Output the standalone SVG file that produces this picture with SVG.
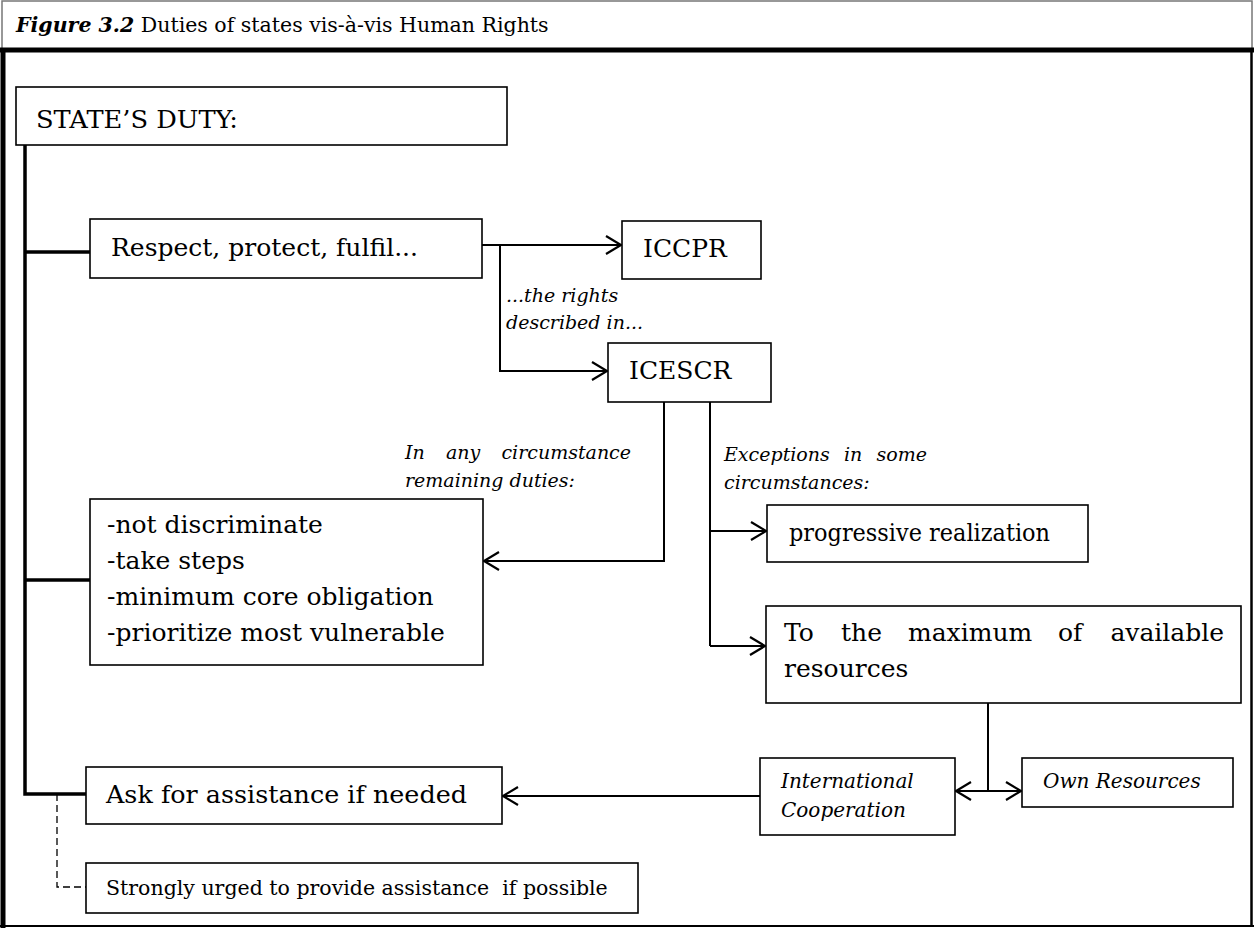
<svg xmlns="http://www.w3.org/2000/svg" width="1254" height="928" viewBox="0 0 1254 928">
<defs>
<marker id="arr" markerUnits="userSpaceOnUse" markerWidth="20" markerHeight="22" refX="16" refY="10" orient="auto">
<path d="M1,1 L16,10 L1,19" fill="none" stroke="#000" stroke-width="2.2"/>
</marker>
<marker id="arrs" markerUnits="userSpaceOnUse" markerWidth="20" markerHeight="22" refX="16" refY="10" orient="auto-start-reverse">
<path d="M1,1 L16,10 L1,19" fill="none" stroke="#000" stroke-width="2.2"/>
</marker>
<style>
.box{fill:#fff;stroke:#000;stroke-width:1.6}
.t{font-family:"DejaVu Serif","Liberation Serif",serif;font-size:25px;fill:#000}
.i{font-family:"DejaVu Serif","Liberation Serif",serif;font-style:italic;font-size:19px;fill:#000}
.ib{font-family:"DejaVu Serif","Liberation Serif",serif;font-style:italic;font-size:20px;fill:#000}
.s{font-family:"DejaVu Serif","Liberation Serif",serif;font-size:20.5px;fill:#000}
.c{fill:none;stroke:#000;stroke-width:2}
.th{fill:none;stroke:#000;stroke-width:3.5}
</style>
</defs>
<rect width="1254" height="928" fill="#fff"/>
<g id="frame">
<rect x="2" y="1" width="1250" height="49" fill="none" stroke="#777" stroke-width="1.5"/>
<line x1="0" y1="50" x2="1254" y2="50" stroke="#000" stroke-width="5"/>
<line x1="3" y1="48" x2="3" y2="928" stroke="#000" stroke-width="5"/>
<line x1="1251.5" y1="50" x2="1251.5" y2="926" stroke="#000" stroke-width="2.5"/>
<line x1="0" y1="926" x2="1254" y2="926" stroke="#000" stroke-width="2"/>
<text x="16" y="32" style="font-family:'DejaVu Serif','Liberation Serif',serif;font-size:20.5px"><tspan font-weight="bold" font-style="italic">Figure 3.2</tspan> Duties of states vis-à-vis Human Rights</text>
</g>
<g id="connectors">
<polyline class="th" points="25,145 25,794 86,794"/>
<line class="th" x1="25" y1="252" x2="90" y2="252"/>
<line class="th" x1="25" y1="580" x2="90" y2="580"/>
<line class="c" x1="482" y1="245" x2="621" y2="245" marker-end="url(#arr)"/>
<polyline class="c" points="500,245 500,371 607,371" marker-end="url(#arr)"/>
<polyline class="c" points="664,402 664,561 484,561" marker-end="url(#arr)"/>
<line class="c" x1="710" y1="402" x2="710" y2="646"/>
<line class="c" x1="710" y1="531" x2="766" y2="531" marker-end="url(#arr)"/>
<line class="c" x1="710" y1="646" x2="765" y2="646" marker-end="url(#arr)"/>
<line class="c" x1="988" y1="703" x2="988" y2="791"/>
<line class="c" x1="956" y1="791" x2="1021" y2="791" marker-start="url(#arrs)" marker-end="url(#arr)"/>
<line class="c" x1="760" y1="796" x2="503" y2="796" marker-end="url(#arr)"/>
<polyline points="57,794 57,887 86,887" fill="none" stroke="#000" stroke-width="1.3" stroke-dasharray="7,4"/>
<text class="i" x="506" y="302">...the rights</text>
<text class="i" x="506" y="329">described in...</text>
<text class="i" y="459"><tspan x="405">In</tspan><tspan x="446">any</tspan><tspan x="631" text-anchor="end">circumstance</tspan></text>
<text class="i" x="405" y="487">remaining duties:</text>
<text class="i" y="461"><tspan x="724">Exceptions</tspan><tspan x="844">in</tspan><tspan x="927" text-anchor="end">some</tspan></text>
<text class="i" x="724" y="489">circumstances:</text>
</g>
<g id="state-duty">
<rect class="box" x="16" y="87" width="491" height="58"/>
<text class="t" x="36" y="128" textLength="202" lengthAdjust="spacingAndGlyphs">STATE’S DUTY:</text>
</g>
<g id="respect">
<rect class="box" x="90" y="219" width="392" height="59"/>
<text class="t" x="111" y="256" textLength="307" lengthAdjust="spacingAndGlyphs">Respect, protect, fulfil...</text>
</g>
<g id="iccpr">
<rect class="box" x="622" y="221" width="139" height="58"/>
<text class="t" x="643" y="257">ICCPR</text>
</g>
<g id="icescr">
<rect class="box" x="608" y="343" width="163" height="59"/>
<text class="t" x="629" y="379">ICESCR</text>
</g>
<g id="duties">
<rect class="box" x="90" y="499" width="393" height="166"/>
<text class="t" x="107" y="533">-not discriminate</text>
<text class="t" x="107" y="569">-take steps</text>
<text class="t" x="107" y="605">-minimum core obligation</text>
<text class="t" x="107" y="641">-prioritize most vulnerable</text>
</g>
<g id="progressive">
<rect class="box" x="767" y="505" width="321" height="57"/>
<text class="t" x="789" y="541" textLength="261" lengthAdjust="spacingAndGlyphs">progressive realization</text>
</g>
<g id="maximum">
<rect class="box" x="766" y="606" width="475" height="97"/>
<text class="t" y="641"><tspan x="784">To</tspan><tspan x="841">the</tspan><tspan x="908">maximum</tspan><tspan x="1058">of</tspan><tspan x="1224" text-anchor="end">available</tspan></text>
<text class="t" x="784" y="677">resources</text>
</g>
<g id="intl-coop">
<rect class="box" x="760" y="758" width="195" height="77"/>
<text class="ib" x="781" y="788">International</text>
<text class="ib" x="781" y="817">Cooperation</text>
</g>
<g id="own-resources">
<rect class="box" x="1022" y="758" width="211" height="49"/>
<text class="ib" x="1043" y="788">Own Resources</text>
</g>
<g id="ask">
<rect class="box" x="86" y="767" width="416" height="57"/>
<text class="t" x="106" y="803" textLength="361" lengthAdjust="spacingAndGlyphs">Ask for assistance if needed</text>
</g>
<g id="urged">
<rect class="box" x="86" y="863" width="552" height="50"/>
<text class="s" x="106" y="895" xml:space="preserve">Strongly urged to provide assistance  if possible</text>
</g>
</svg>
